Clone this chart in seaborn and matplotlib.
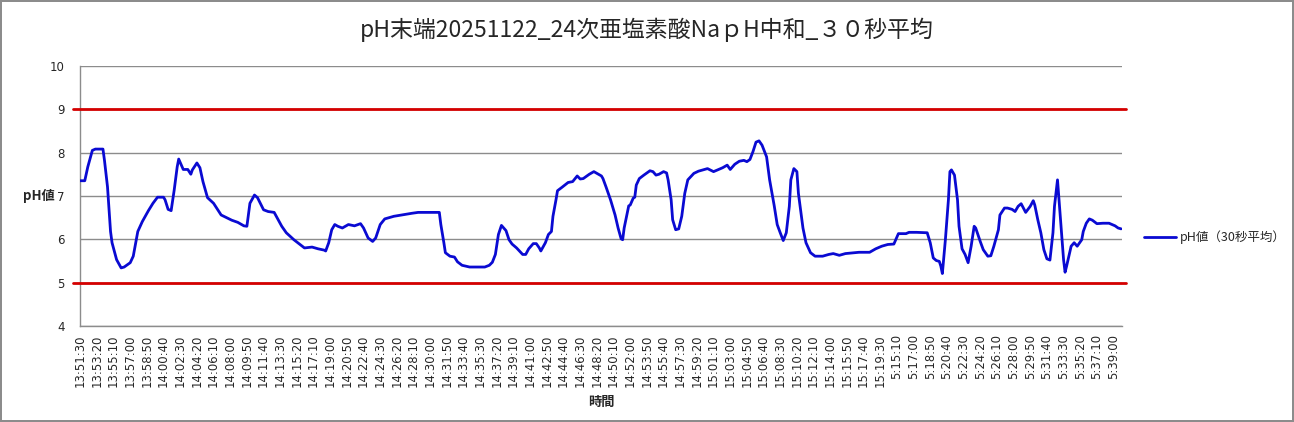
import matplotlib
matplotlib.use("Agg")
import matplotlib.pyplot as plt
import seaborn as sns
import pandas as pd

# ---------------- data ----------------
title = "pH末端20251122_24次亜塩素酸NaｐH中和_３０秒平均"
series_name = "pH値（30秒平均）"
x_label = "時間"
y_label = "pH値"

# category tick labels (one every 11 samples, 10 s per sample)
tick_labels = [
    "13:51:30", "13:53:20", "13:55:10", "13:57:00", "13:58:50", "14:00:40", "14:02:30",
    "14:04:20", "14:06:10", "14:08:00", "14:09:50", "14:11:40", "14:13:30", "14:15:20",
    "14:17:10", "14:19:00", "14:20:50", "14:22:40", "14:24:30", "14:26:20", "14:28:10",
    "14:30:00", "14:31:50", "14:33:40", "14:35:30", "14:37:20", "14:39:10", "14:41:00",
    "14:42:50", "14:44:40", "14:46:30", "14:48:20", "14:50:10", "14:52:00", "14:53:50",
    "14:55:40", "14:57:30", "14:59:20", "15:01:10", "15:03:00", "15:04:50", "15:06:40",
    "15:08:30", "15:10:20", "15:12:10", "15:14:00", "15:15:50", "15:17:40", "15:19:30",
    "5:15:10", "5:17:00", "5:18:50", "5:20:40", "5:22:30", "5:24:20", "5:26:10",
    "5:28:00", "5:29:50", "5:31:40", "5:33:30", "5:35:20", "5:37:10", "5:39:00",
]
n_samples = 688

# sample number (10 s steps) and pH readings
sample_idx = [
    0, 3, 5, 8, 10, 15, 16, 18, 20, 21, 24, 27, 29, 33, 35, 38, 41, 45, 48, 51,
    55, 56, 58, 60, 62, 64, 65, 68, 71, 73, 74, 77, 79, 81, 84, 88, 93, 100, 104, 108,
    110, 112, 115, 117, 121, 124, 128, 130, 133, 136, 141, 145, 148, 153, 157, 161, 162, 164, 166, 168,
    170, 173, 177, 181, 185, 187, 190, 193, 195, 198, 201, 207, 212, 219, 223, 229, 237, 238, 240, 241,
    244, 247, 249, 252, 257, 261, 267, 270, 272, 274, 276, 278, 281, 283, 285, 288, 292, 294, 296, 299,
    301, 303, 304, 307, 309, 311, 312, 314, 315, 318, 322, 325, 328, 330, 332, 336, 339, 342, 344, 345,
    347, 350, 353, 355, 357, 358, 359, 362, 363, 365, 366, 367, 369, 372, 376, 378, 380, 382, 385, 387,
    388, 390, 391, 393, 395, 397, 399, 401, 405, 408, 411, 414, 418, 422, 424, 427, 429, 432, 435, 438,
    440, 442, 444, 446, 448, 450, 453, 455, 458, 460, 462, 464, 466, 468, 469, 471, 473, 474, 477, 479,
    482, 485, 490, 494, 497, 501, 505, 511, 514, 521, 525, 529, 533, 537, 540, 545, 547, 552, 559, 561,
    563, 565, 567, 568, 569, 571, 573, 574, 575, 577, 579, 580, 582, 584, 586, 588, 590, 591, 594, 596,
    599, 601, 603, 606, 607, 610, 612, 615, 617, 619, 621, 623, 624, 627, 629, 630, 632, 634, 636, 638,
    640, 642, 643, 645, 647, 649, 650, 651, 654, 656, 658, 661, 662, 664, 666, 668, 671, 675, 679, 683,
    685, 687,
]
ph_values = [
    7.35, 7.35, 7.67, 8.05, 8.08, 8.08, 7.82, 7.21, 6.18, 5.92, 5.53, 5.34, 5.36, 5.46, 5.61, 6.18, 6.41, 6.66, 6.83, 6.97,
    6.97, 6.91, 6.69, 6.66, 7.13, 7.67, 7.85, 7.61, 7.61, 7.50, 7.60, 7.76, 7.65, 7.33, 6.96, 6.83, 6.56, 6.44, 6.39, 6.31,
    6.30, 6.83, 7.02, 6.96, 6.68, 6.64, 6.62, 6.49, 6.30, 6.15, 5.99, 5.88, 5.80, 5.82, 5.78, 5.75, 5.73, 5.92, 6.22, 6.34,
    6.30, 6.26, 6.34, 6.31, 6.36, 6.26, 6.03, 5.95, 6.03, 6.34, 6.47, 6.53, 6.56, 6.60, 6.62, 6.62, 6.62, 6.34, 5.92, 5.69,
    5.61, 5.59, 5.48, 5.40, 5.36, 5.36, 5.36, 5.40, 5.47, 5.65, 6.11, 6.32, 6.20, 5.99, 5.89, 5.80, 5.65, 5.65, 5.78, 5.90,
    5.90, 5.80, 5.73, 5.92, 6.11, 6.18, 6.53, 6.91, 7.12, 7.20, 7.31, 7.33, 7.46, 7.39, 7.40, 7.50, 7.56, 7.50, 7.46, 7.40,
    7.21, 6.91, 6.56, 6.26, 6.01, 5.99, 6.26, 6.77, 6.79, 6.95, 6.97, 7.25, 7.40, 7.48, 7.58, 7.56, 7.48, 7.50, 7.56, 7.53,
    7.37, 6.91, 6.45, 6.22, 6.24, 6.53, 7.06, 7.37, 7.52, 7.57, 7.60, 7.63, 7.56, 7.62, 7.65, 7.71, 7.61, 7.73, 7.80, 7.82,
    7.79, 7.84, 8.02, 8.24, 8.27, 8.17, 7.90, 7.37, 6.78, 6.34, 6.15, 5.97, 6.15, 6.76, 7.37, 7.63, 7.56, 7.06, 6.26, 5.92,
    5.69, 5.61, 5.61, 5.65, 5.67, 5.63, 5.67, 5.69, 5.70, 5.70, 5.78, 5.84, 5.88, 5.89, 6.13, 6.13, 6.16, 6.16, 6.15, 5.92,
    5.57, 5.51, 5.49, 5.38, 5.21, 5.99, 6.91, 7.56, 7.60, 7.48, 6.91, 6.30, 5.78, 5.65, 5.46, 5.84, 6.30, 6.26, 5.95, 5.76,
    5.61, 5.62, 5.84, 6.22, 6.56, 6.72, 6.72, 6.69, 6.64, 6.76, 6.82, 6.69, 6.62, 6.76, 6.89, 6.79, 6.45, 6.15, 5.76, 5.55,
    5.52, 6.15, 6.76, 7.37, 6.45, 5.53, 5.24, 5.38, 5.84, 5.92, 5.84, 5.99, 6.18, 6.37, 6.47, 6.44, 6.36, 6.37, 6.37, 6.31,
    6.26, 6.24,
]
limit_lines = [9, 5]

# ---------------- style ----------------
sns.set_style("white")
plt.rcParams["font.family"] = ["Noto Sans CJK JP", "DejaVu Sans"]

fig = plt.figure(figsize=(12.94, 4.22), dpi=100)
fig.patch.set_edgecolor("#8c8c8c")
fig.patch.set_linewidth(1.5)
ax = fig.add_axes([0.062, 0.2275, 0.805, 0.6165])

df = pd.DataFrame({"sample": sample_idx, "pH": ph_values})
sns.lineplot(data=df, x="sample", y="pH", ax=ax, color="#0a0ad2", linewidth=2.0,
             label=series_name, zorder=4)

for lv in limit_lines:
    ax.axhline(lv, xmin=-0.007, xmax=1.004, color="#d40000", linewidth=2.0,
               clip_on=False, zorder=3)

ax.set_xlim(0, n_samples - 0.5)
ax.set_ylim(4, 10)
ax.set_yticks(range(4, 11))
ax.yaxis.grid(True, color="#8c8c8c", linewidth=1.0)
ax.set_axisbelow(True)

ax.set_xticks(range(0, 11 * len(tick_labels), 11))
ax.set_xticklabels(tick_labels, rotation=90, fontsize=8.4, family="DejaVu Sans")
ax.set_xticks(range(0, n_samples), minor=True)
ax.tick_params(axis="x", which="major", length=4, color="#8c8c8c", pad=2)
ax.tick_params(axis="x", which="minor", length=3, color="#a0a0a0", width=0.6)
ax.tick_params(axis="y", which="major", length=5, color="#8c8c8c", labelsize=8.5, pad=6)
for lab in ax.get_yticklabels():
    lab.set_family("DejaVu Sans")

for s in ["top", "right"]:
    ax.spines[s].set_visible(False)
for s in ["left", "bottom"]:
    ax.spines[s].set_color("#8c8c8c")
    ax.spines[s].set_linewidth(1.0)

ax.set_xlabel(x_label, fontsize=9.5, fontweight="bold", labelpad=6)
ax.set_ylabel(y_label, fontsize=9.5, fontweight="bold", rotation=0, labelpad=8, va="center")
fig.text(0.5, 1 - 30 / 422, title, fontsize=16.5, ha="center", va="center")

leg = ax.legend(loc="center left", bbox_to_anchor=(1.01, 0.34), frameon=False,
                fontsize=9, handlelength=2.6, handletextpad=0.3)
leg.get_lines()[0].set_color("#0a0ad2")

fig.savefig("out.png", dpi=100)
